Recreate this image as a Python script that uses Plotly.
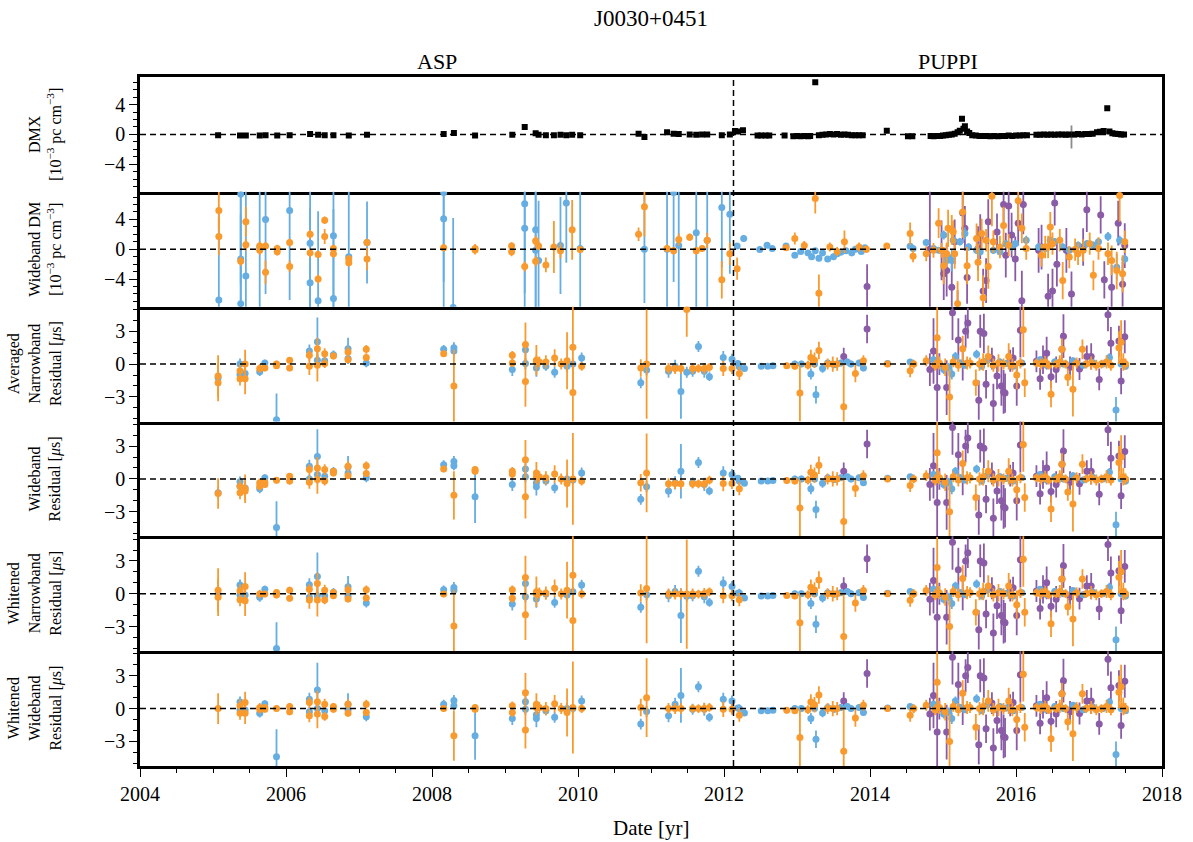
import plotly.graph_objects as go
from plotly.subplots import make_subplots

BLUE = "#66ADE2"
ORANGE = "#F99A2E"
PURPLE = "#8A5BA6"
FONT = "Liberation Serif"

BACKEND_SPLIT = 2012.13
X_RANGE = [2004, 2018]
DM_RANGE = [-7.7, 7.7]
RES_RANGE = [-5.25, 5.25]

# ---------------- Panel 1: DMX (date, value) ----------------
DMX = [
    (2005.07, -0.1), (2005.37, -0.15), (2005.45, -0.15), (2005.64, -0.15), (2005.72, -0.1),
    (2005.88, -0.15), (2006.05, -0.1), (2006.33, 0.05), (2006.44, -0.05), (2006.53, -0.1),
    (2006.65, -0.1), (2006.86, -0.15), (2007.11, -0.05), (2008.16, 0.05), (2008.30, 0.2),
    (2008.59, -0.15), (2009.10, -0.05), (2009.27, 1.0), (2009.42, 0.15), (2009.46, -0.05),
    (2009.56, -0.1), (2009.67, -0.1), (2009.76, -0.05), (2009.84, -0.1), (2009.92, -0.05),
    (2010.03, -0.1), (2010.83, 0.1), (2010.91, -0.35), (2011.22, 0.3), (2011.31, 0.1),
    (2011.38, 0.05), (2011.53, 0.0), (2011.62, -0.05), (2011.70, 0.0), (2011.77, 0.0),
    (2011.97, -0.1), (2012.08, 0.0), (2012.15, 0.45), (2012.19, 0.4), (2012.26, 0.55),
    (2012.46, -0.15), (2012.51, -0.15), (2012.57, -0.15), (2012.62, -0.15), (2012.83, -0.15),
    (2012.95, -0.25), (2013.00, -0.2), (2013.05, -0.25), (2013.10, -0.2), (2013.15, -0.25),
    (2013.18, -0.2), (2013.25, 7.0), (2013.30, -0.1), (2013.35, -0.05), (2013.40, 0.0),
    (2013.45, 0.05), (2013.50, 0.0), (2013.55, 0.05), (2013.60, -0.05), (2013.65, 0.0),
    (2013.70, -0.05), (2013.75, -0.1), (2013.80, -0.1), (2013.85, -0.1), (2013.90, -0.1),
    (2014.23, 0.5), (2014.52, -0.25), (2014.58, -0.25), (2014.83, -0.2), (2014.87, -0.25),
    (2014.92, -0.2), (2014.96, -0.2), (2015.00, -0.15), (2015.04, -0.1), (2015.08, -0.05),
    (2015.12, 0.0), (2015.16, 0.1), (2015.20, 0.3), (2015.23, 0.5), (2015.26, 2.1),
    (2015.28, 0.75), (2015.30, 1.1), (2015.33, 0.4), (2015.36, 0.2), (2015.40, -0.1),
    (2015.45, -0.15), (2015.50, -0.2), (2015.55, -0.2), (2015.60, -0.2), (2015.65, -0.25),
    (2015.70, -0.2), (2015.75, -0.25), (2015.80, -0.2), (2015.85, -0.2), (2015.90, -0.15),
    (2015.95, -0.2), (2016.00, -0.15), (2016.05, -0.15), (2016.10, -0.1), (2016.15, -0.1),
    (2016.28, -0.05), (2016.33, -0.05), (2016.38, 0.0), (2016.43, -0.05), (2016.48, 0.0),
    (2016.53, -0.05), (2016.58, 0.0), (2016.63, 0.0), (2016.68, -0.05), (2016.72, 0.0),
    (2016.80, 0.0), (2016.85, 0.05), (2016.90, 0.0), (2016.95, 0.05), (2017.00, 0.05),
    (2017.05, 0.1), (2017.11, 0.3), (2017.15, 0.35), (2017.20, 0.45), (2017.25, 3.5),
    (2017.28, 0.4), (2017.32, 0.15), (2017.36, 0.1), (2017.40, 0.05), (2017.44, 0.0),
    (2017.48, 0.0),
]
DMX_GRAY = [(2016.76, -0.35, 1.55)]

# ---------------- Panel 2: Wideband DM (date, value, error) ----------------
WBDM_BLUE = [
    (2005.08, -6.8, 12), (2005.38, 7.4, 12), (2005.38, -1.3, 12), (2005.38, -7.3, 12),
    (2005.45, -3.6, 12), (2005.64, 0.3, 10), (2005.72, 4.0, 10), (2006.05, 5.2, 12),
    (2006.33, 0.8, 10), (2006.33, -4.5, 10), (2006.44, -6.9, 12), (2006.65, 1.8, 10),
    (2006.65, -6.6, 12), (2006.86, -1.0, 12), (2007.11, 0.9, 5.5), (2008.16, 7.6, 12),
    (2008.16, 4.1, 12), (2008.29, -7.8, 12), (2009.27, 6.1, 12), (2009.27, 2.8, 12),
    (2009.42, 2.6, 12), (2009.42, -0.15, 12), (2009.46, -1.5, 8), (2009.76, 0.5, 6.5),
    (2009.84, 6.2, 8), (2010.03, 0.1, 10), (2010.91, 0.0, 7.2), (2011.22, 0.0, 12),
    (2011.31, 7.6, 12), (2011.38, 0.5, 12), (2011.62, 2.2, 12), (2011.77, 1.2, 12),
    (2011.97, 5.6, 8), (2012.08, 4.7, 8),
    (2012.18, 0.45, 0.3), (2012.27, 1.45, 0.4), (2012.49, -0.05, 0.2), (2012.59, 0.55, 0.2),
    (2012.66, 0.1, 0.2), (2012.85, 0.45, 0.3), (2012.97, -0.8, 0.3), (2013.05, -0.3, 0.3),
    (2013.15, -0.5, 0.4), (2013.20, -1.0, 0.4), (2013.25, -0.2, 0.3), (2013.30, -1.2, 0.4),
    (2013.35, -0.5, 0.3), (2013.42, -1.3, 0.4), (2013.50, -1.0, 0.4), (2013.55, -0.6, 0.3),
    (2013.60, -0.4, 0.3), (2013.67, -0.2, 0.3), (2013.75, -0.5, 0.3), (2013.80, 0.0, 0.3),
    (2013.88, -0.3, 0.3), (2013.93, 0.2, 0.3),
    (2014.55, 0.4, 0.3), (2014.59, 0.1, 0.3), (2014.77, 0.9, 0.4), (2014.87, 0.1, 0.3),
    (2014.94, -0.15, 0.3), (2015.01, 1.9, 0.6), (2015.05, -1.5, 0.6), (2015.07, -1.05, 0.6),
    (2015.12, -1.5, 1.5), (2015.14, 1.2, 0.5), (2015.23, 1.0, 0.5), (2015.30, 2.1, 0.8),
    (2015.35, 0.3, 0.5), (2015.46, -0.15, 0.5), (2015.51, -0.35, 0.5), (2015.69, -0.15, 0.5),
    (2015.78, -0.35, 0.6), (2015.86, 0.75, 0.5), (2015.94, 0.3, 0.5), (2015.99, 0.75, 0.5),
    (2016.14, 1.2, 0.6), (2016.31, 0.3, 0.5), (2016.40, 0.1, 0.5), (2016.47, 1.2, 0.5),
    (2016.53, 1.0, 0.5), (2016.64, 0.3, 0.5), (2016.73, -0.15, 0.5), (2016.85, 0.55, 0.5),
    (2016.97, 0.75, 0.5), (2017.06, 0.55, 0.5), (2017.13, 1.0, 0.5), (2017.26, 1.7, 0.6),
    (2017.38, -2.4, 1.8), (2017.42, 1.2, 0.6), (2017.49, -1.3, 0.6),
]
WBDM_ORANGE = [
    (2005.08, 5.2, 2.5), (2005.08, 1.7, 2.5), (2005.38, -1.6, 0.6), (2005.45, 3.7, 2.0),
    (2005.45, 0.6, 0.8), (2005.64, 0.45, 0.6), (2005.64, -0.15, 0.6), (2005.72, 0.45, 0.5),
    (2005.72, -3.1, 1.6), (2005.88, 0.1, 0.5), (2005.88, -0.35, 0.5), (2006.05, 0.9, 0.5),
    (2006.05, -2.3, 0.8), (2006.33, 2.0, 0.6), (2006.33, -0.5, 0.6), (2006.44, -0.7, 0.5),
    (2006.44, -4.0, 0.6), (2006.53, 3.9, 0.5), (2006.53, 1.7, 1.0), (2006.65, 0.1, 0.5),
    (2006.65, -0.6, 0.5), (2006.86, -1.3, 0.5), (2006.86, -1.8, 0.5), (2007.11, 0.9, 0.5),
    (2007.11, -1.3, 1.5), (2008.16, 0.2, 0.5), (2008.59, 0.1, 0.6), (2008.59, -0.1, 0.6),
    (2009.09, 0.45, 0.5), (2009.09, -0.35, 0.6), (2009.27, -2.3, 0.7), (2009.42, 1.1, 0.7),
    (2009.42, -1.6, 0.7), (2009.46, 0.45, 0.6), (2009.56, -2.1, 1.0), (2009.67, 0.3, 3.5),
    (2009.76, -0.2, 1.0), (2009.92, 2.6, 4.0), (2010.03, -0.05, 0.4), (2010.83, 2.0, 0.9),
    (2010.91, 5.7, 4.0), (2011.22, 0.1, 0.5), (2011.31, -0.2, 0.5), (2011.38, 1.3, 0.8),
    (2011.53, 1.6, 0.5), (2011.62, -0.2, 0.5), (2011.70, 0.1, 0.4), (2011.77, 1.2, 1.0),
    (2011.97, -4.1, 2.5), (2012.08, -0.6, 1.5), (2012.18, -2.6, 1.5),
    (2012.85, 0.2, 0.4), (2012.97, 1.45, 0.8), (2013.10, 0.5, 0.6), (2013.25, 6.8, 2.0),
    (2013.30, -5.9, 2.5), (2013.45, 0.3, 0.6), (2013.55, -0.3, 0.6), (2013.65, 1.0, 1.5),
    (2013.85, 0.3, 0.6), (2013.95, 0.0, 0.5),
    (2014.23, 0.45, 0.4), (2014.55, 2.1, 1.5), (2014.59, -0.95, 0.8), (2014.77, -0.6, 1.0),
    (2014.87, -0.15, 1.0), (2014.94, 3.5, 2.0), (2014.98, -0.15, 1.0), (2015.01, -2.2, 2.5),
    (2015.05, -0.6, 1.5), (2015.07, 2.8, 2.5), (2015.12, 2.6, 2.0), (2015.14, 2.35, 1.5),
    (2015.16, -0.6, 2.0), (2015.20, -7.3, 3.0), (2015.27, 5.0, 3.5), (2015.33, -2.2, 2.5),
    (2015.46, 1.45, 2.0), (2015.48, -1.75, 2.5), (2015.53, 2.1, 2.0), (2015.55, -6.5, 3.0),
    (2015.59, 1.2, 1.5), (2015.62, -2.3, 3.0), (2015.67, 7.1, 4.0), (2015.69, 1.0, 1.5),
    (2015.78, 0.3, 1.5), (2015.83, 3.2, 2.5), (2015.90, 0.55, 1.5), (2016.03, 6.5, 3.5),
    (2016.08, 2.8, 2.0), (2016.14, 0.1, 1.5), (2016.35, -0.8, 1.5), (2016.40, 0.3, 1.5),
    (2016.44, 0.3, 1.5), (2016.47, 3.0, 2.0), (2016.50, 0.75, 1.5), (2016.60, 1.2, 1.5),
    (2016.64, -4.2, 2.5), (2016.73, -1.05, 1.5), (2016.81, -0.05, 1.5), (2016.85, -0.6, 1.5),
    (2016.92, -0.15, 1.5), (2017.01, 0.75, 1.5), (2017.06, -3.5, 2.0), (2017.13, 0.1, 1.5),
    (2017.26, -0.6, 1.5), (2017.31, -1.5, 2.0), (2017.38, -2.85, 2.5), (2017.42, 7.2, 3.5),
    (2017.46, -3.3, 2.5), (2017.49, 1.0, 1.5),
]
WBDM_PURPLE = [
    (2013.96, -5.0, 3.0), (2014.82, 0.0, 8.0), (2014.98, -0.15, 4.0), (2015.01, -3.3, 3.5),
    (2015.05, -2.85, 3.5), (2015.12, -5.1, 3.5), (2015.16, 1.0, 3.0), (2015.20, -8.5, 3.0),
    (2015.27, 4.85, 4.0), (2015.30, 2.8, 3.0), (2015.33, -3.8, 3.5), (2015.48, 0.1, 3.0),
    (2015.51, 1.7, 3.0), (2015.55, -5.6, 3.0), (2015.59, -4.2, 3.0), (2015.62, 3.7, 3.0),
    (2015.74, 2.3, 2.5), (2015.83, 6.0, 3.0), (2015.86, -0.8, 3.0), (2015.90, 5.8, 4.0),
    (2015.94, 1.9, 3.0), (2015.99, -1.3, 3.0), (2016.03, 3.5, 3.0), (2016.08, -6.9, 4.0),
    (2016.10, 6.0, 4.0), (2016.31, -0.15, 3.0), (2016.35, 0.3, 3.0), (2016.44, -6.3, 3.0),
    (2016.50, -5.6, 3.0), (2016.53, 6.2, 3.0), (2016.56, -2.0, 3.0), (2016.69, -0.15, 3.0),
    (2016.76, -6.0, 3.0), (2016.92, 0.3, 2.5), (2016.97, 5.3, 3.0), (2017.16, 4.6, 2.5),
    (2017.21, -4.1, 2.5), (2017.31, -5.1, 3.0), (2017.40, 3.5, 3.0), (2017.46, -4.7, 3.0),
    (2017.49, 0.5, 3.0),
]

# ---------------- ASP-era residuals (date, value [us], error) ----------------
AVG_NB_BLUE = [
    (2005.07, -1.25, 0.5), (2005.37, 0.0, 0.5), (2005.37, -0.95, 0.4), (2005.44, -0.85, 0.5),
    (2005.64, -0.7, 0.4), (2005.71, 0.1, 0.3), (2005.87, -5.1, 2.4), (2006.32, 1.2, 0.6),
    (2006.43, 2.05, 2.2), (2006.43, 0.35, 0.5), (2006.53, 0.3, 0.4), (2006.65, 0.85, 0.4),
    (2006.85, 1.4, 1.0), (2006.85, 0.5, 0.5), (2007.10, 0.1, 0.4), (2008.16, 1.35, 0.4),
    (2008.30, 1.5, 0.5), (2008.30, 1.2, 0.4), (2009.10, -0.5, 0.6), (2009.28, 1.3, 0.6),
    (2009.28, 0.05, 0.5), (2009.43, -0.35, 0.8), (2009.56, -0.2, 0.4), (2009.68, -0.75, 0.5),
    (2009.85, -0.2, 0.5), (2009.93, 0.0, 0.4), (2010.05, 0.55, 0.5), (2010.86, -1.7, 0.5),
    (2010.94, -0.55, 0.5), (2011.24, -0.65, 0.6), (2011.33, -0.2, 0.6), (2011.41, -2.5, 2.5),
    (2011.49, -0.75, 0.5), (2011.57, -0.65, 0.5), (2011.65, 1.6, 0.5), (2011.73, -0.65, 0.6),
    (2011.80, -1.15, 0.4), (2011.99, 0.6, 0.6), (2012.11, 0.45, 0.5), (2012.21, -0.25, 0.4),
]
AVG_NB_ORANGE = [
    (2005.07, -1.1, 1.9), (2005.07, -1.7, 1.7), (2005.37, -0.6, 0.6), (2005.37, -1.35, 0.6),
    (2005.44, 0.0, 1.3), (2005.44, -1.35, 1.4), (2005.64, -0.4, 0.4), (2005.71, -0.35, 0.3),
    (2005.87, 0.0, 0.3), (2005.87, -0.15, 0.3), (2006.05, 0.35, 0.3), (2006.05, -0.35, 0.3),
    (2006.32, 0.8, 0.5), (2006.32, -0.2, 0.8), (2006.43, 1.4, 1.0), (2006.43, -0.1, 1.5),
    (2006.53, 0.95, 0.5), (2006.53, 0.05, 0.4), (2006.65, 0.75, 0.3), (2006.85, 1.1, 0.5),
    (2006.85, 0.4, 0.3), (2007.10, 1.35, 0.4), (2007.10, 0.6, 0.3), (2008.16, 0.95, 0.3),
    (2008.30, -2.0, 3.3), (2009.10, 0.8, 0.4), (2009.10, 0.1, 0.4), (2009.28, 1.8, 2.0),
    (2009.28, -1.6, 2.3), (2009.43, 0.35, 1.4), (2009.43, 0.2, 0.6), (2009.47, 0.2, 0.5),
    (2009.56, 0.2, 0.6), (2009.68, 0.55, 0.8), (2009.77, 0.0, 0.5), (2009.85, 0.3, 2.6),
    (2009.93, 1.55, 4.0), (2009.93, -2.6, 3.0), (2010.05, -0.2, 0.4), (2010.86, -0.35, 0.8),
    (2010.94, 0.0, 5.0), (2011.24, -0.4, 0.5), (2011.33, -0.4, 0.5), (2011.41, -0.4, 0.5),
    (2011.49, 5.0, 2.5), (2011.57, -0.4, 0.5), (2011.65, -0.4, 0.4), (2011.73, -0.4, 0.5),
    (2011.80, -0.3, 0.4), (2011.99, -0.4, 0.7), (2012.11, -0.4, 0.5), (2012.21, -0.85, 0.6),
]
WB_BLUE = [
    (2005.07, -1.27, 0.5), (2005.37, -0.27, 0.5), (2005.37, -0.66, 0.4), (2005.44, -0.82, 0.5),
    (2005.64, -0.9, 0.4), (2005.71, 0.1, 0.3), (2005.87, -4.45, 2.4), (2006.32, 1.15, 0.6),
    (2006.32, 0.0, 0.4), (2006.43, 2.05, 2.5), (2006.43, 0.4, 0.5), (2006.53, 0.25, 0.4),
    (2006.65, 0.7, 0.4), (2006.85, 1.1, 1.0), (2006.85, 0.55, 0.5), (2007.10, 0.1, 0.4),
    (2008.16, 1.3, 0.4), (2008.30, 1.6, 0.5), (2008.30, 1.2, 0.4), (2008.59, -1.63, 2.4),
    (2009.10, -0.5, 0.6), (2009.28, 0.9, 0.6), (2009.28, 0.2, 0.5), (2009.43, -0.36, 0.6),
    (2009.43, -0.72, 0.8), (2009.56, -0.2, 0.4), (2009.68, -0.8, 0.5), (2009.85, 0.0, 0.5),
    (2009.93, -0.1, 0.4), (2010.05, 0.55, 0.5), (2010.86, -1.87, 0.5), (2010.94, -0.72, 0.5),
    (2011.24, -1.1, 0.6), (2011.33, -0.36, 0.6), (2011.41, 0.7, 2.5), (2011.57, -0.36, 0.5),
    (2011.65, 1.5, 0.5), (2011.73, -0.5, 0.6), (2011.80, -1.1, 0.4), (2011.99, 0.55, 0.6),
    (2012.11, 0.4, 0.5), (2012.21, -0.2, 0.4),
]
WB_ORANGE = [
    (2005.07, -1.33, 1.4), (2005.37, -0.66, 0.6), (2005.37, -1.27, 0.6), (2005.44, -0.9, 1.3),
    (2005.44, -1.1, 0.8), (2005.64, -0.36, 0.4), (2005.64, -0.66, 0.4), (2005.71, -0.5, 0.3),
    (2005.71, -0.3, 0.3), (2005.87, -0.12, 0.3), (2006.05, 0.25, 0.3), (2006.05, -0.2, 0.3),
    (2006.32, 0.85, 0.5), (2006.32, -0.3, 0.6), (2006.43, 1.0, 1.0), (2006.43, -0.05, 1.3),
    (2006.53, 0.85, 0.5), (2006.53, -0.2, 0.4), (2006.65, 0.55, 0.3), (2006.65, 0.7, 0.3),
    (2006.85, 1.15, 0.5), (2006.85, 0.3, 0.3), (2007.10, 1.2, 0.4), (2007.10, 0.5, 0.3),
    (2008.16, 0.9, 0.3), (2008.30, -1.5, 2.2), (2008.59, 0.85, 0.3), (2008.59, 0.7, 0.3),
    (2009.10, 0.7, 0.4), (2009.10, 0.45, 0.4), (2009.28, 1.75, 1.8), (2009.28, -1.63, 2.0),
    (2009.43, 0.55, 1.0), (2009.43, 0.2, 0.6), (2009.47, 0.2, 0.5), (2009.56, 0.1, 0.6),
    (2009.68, 0.45, 0.8), (2009.77, 0.0, 0.5), (2009.85, -0.42, 2.2), (2009.93, 0.0, 4.2),
    (2010.05, -0.2, 0.4), (2010.86, -0.36, 0.8), (2010.94, 0.55, 3.6), (2011.24, -0.45, 0.5),
    (2011.33, -0.42, 0.5), (2011.41, -0.45, 0.5), (2011.57, -0.45, 0.4), (2011.65, -0.45, 0.4),
    (2011.73, -0.45, 0.5), (2011.80, -0.12, 0.4), (2011.99, -0.42, 0.7), (2012.11, -0.42, 0.5),
    (2012.21, -0.9, 0.6),
]
WH_NB_BLUE = [
    (2005.07, -0.03, 0.5), (2005.37, 0.8, 0.5), (2005.37, -0.12, 0.4), (2005.44, -0.12, 0.5),
    (2005.64, -0.33, 0.4), (2005.71, 0.42, 0.3), (2005.87, -5.0, 2.4), (2006.32, 0.82, 0.6),
    (2006.32, -0.33, 0.4), (2006.43, 1.57, 2.2), (2006.43, -0.18, 0.5), (2006.53, -0.18, 0.4),
    (2006.65, 0.12, 0.4), (2006.85, 0.63, 1.0), (2006.85, -0.24, 0.5), (2007.10, -0.85, 0.4),
    (2008.16, 0.36, 0.4), (2008.30, 0.57, 0.5), (2008.30, 0.33, 0.4), (2009.10, -0.94, 0.6),
    (2009.28, 0.94, 0.6), (2009.28, -0.27, 0.5), (2009.43, -0.48, 0.8), (2009.56, -0.03, 0.4),
    (2009.68, -0.79, 0.5), (2009.85, -0.12, 0.5), (2009.93, 0.18, 0.4), (2010.05, 0.79, 0.5),
    (2010.86, -1.24, 0.5), (2010.94, -0.09, 0.5), (2011.24, -0.18, 0.6), (2011.33, 0.21, 0.6),
    (2011.41, -2.0, 2.5), (2011.49, -0.24, 0.5), (2011.57, -0.18, 0.5), (2011.65, 2.05, 0.5),
    (2011.73, -0.27, 0.6), (2011.80, -0.79, 0.4), (2011.99, 0.97, 0.6), (2012.11, 0.66, 0.5),
    (2012.21, 0.06, 0.4),
]
WH_NB_ORANGE = [
    (2005.07, 0.33, 2.0), (2005.07, -0.33, 1.7), (2005.37, 0.27, 0.6), (2005.37, -0.54, 0.6),
    (2005.44, 0.66, 1.3), (2005.44, -0.63, 1.4), (2005.64, -0.03, 0.4), (2005.71, -0.03, 0.3),
    (2005.87, 0.12, 0.3), (2005.87, -0.12, 0.3), (2006.05, 0.33, 0.3), (2006.05, -0.42, 0.3),
    (2006.32, 0.42, 0.5), (2006.32, -0.57, 0.8), (2006.43, 0.94, 1.0), (2006.43, -0.57, 1.5),
    (2006.53, 0.33, 0.5), (2006.53, -0.57, 0.4), (2006.65, 0.12, 0.3), (2006.65, -0.18, 0.3),
    (2006.85, 0.36, 0.5), (2006.85, -0.48, 0.3), (2007.10, 0.36, 0.4), (2007.10, -0.39, 0.3),
    (2008.16, -0.03, 0.3), (2008.30, -2.96, 3.3), (2009.10, 0.36, 0.4), (2009.10, -0.42, 0.4),
    (2009.28, 1.48, 2.0), (2009.28, -1.93, 2.3), (2009.43, 0.18, 1.4), (2009.43, -0.03, 0.6),
    (2009.47, 0.06, 0.5), (2009.56, 0.06, 0.6), (2009.68, 0.51, 0.8), (2009.77, -0.03, 0.5),
    (2009.85, 0.33, 2.6), (2009.93, 1.7, 4.0), (2009.93, -2.45, 3.0), (2010.05, -0.03, 0.4),
    (2010.86, 0.06, 0.8), (2010.94, 0.48, 5.0), (2011.24, -0.03, 0.5), (2011.33, -0.03, 0.5),
    (2011.41, -0.03, 0.5), (2011.49, -0.03, 5.0), (2011.57, -0.03, 0.5), (2011.65, -0.03, 0.4),
    (2011.73, 0.03, 0.5), (2011.80, 0.18, 0.4), (2011.99, -0.18, 0.7), (2012.11, -0.18, 0.5),
    (2012.21, -0.54, 0.6),
]
WH_WB_BLUE = [
    (2005.37, 0.6, 0.5), (2005.37, -0.12, 0.4), (2005.44, -0.12, 0.5), (2005.64, -0.42, 0.4),
    (2005.71, 0.45, 0.3), (2005.87, -4.4, 2.5), (2006.32, 0.85, 0.6), (2006.32, -0.3, 0.4),
    (2006.43, 1.7, 2.5), (2006.43, 0.0, 0.5), (2006.53, -0.2, 0.4), (2006.85, 0.4, 1.0),
    (2006.85, -0.12, 0.5), (2007.10, -0.75, 0.4), (2008.16, 0.4, 0.4), (2008.30, 0.75, 0.5),
    (2008.30, 0.25, 0.4), (2008.59, -2.48, 2.2), (2009.10, -0.9, 0.6), (2009.28, 0.63, 0.6),
    (2009.28, -0.06, 0.5), (2009.43, -0.57, 0.6), (2009.43, -0.9, 0.8), (2009.56, -0.2, 0.4),
    (2009.68, -0.8, 0.5), (2009.85, 0.0, 0.5), (2009.93, 0.0, 0.4), (2010.05, 0.7, 0.5),
    (2010.86, -1.42, 0.5), (2010.94, -0.27, 0.5), (2011.24, -0.66, 0.6), (2011.33, 0.4, 0.6),
    (2011.41, 1.2, 2.5), (2011.57, -0.06, 0.5), (2011.65, 2.0, 0.5), (2011.73, -0.06, 0.6),
    (2011.80, -0.8, 0.4), (2011.99, 0.85, 0.6), (2012.11, 0.7, 0.5), (2012.21, 0.0, 0.4),
]
WH_WB_ORANGE = [
    (2005.07, 0.0, 1.4), (2005.37, 0.25, 0.6), (2005.37, -0.42, 0.6), (2005.44, 0.55, 1.0),
    (2005.44, -0.42, 1.0), (2005.64, 0.1, 0.4), (2005.64, -0.06, 0.4), (2005.71, -0.06, 0.3),
    (2005.71, 0.1, 0.3), (2005.87, 0.0, 0.3), (2006.05, 0.2, 0.3), (2006.05, -0.3, 0.3),
    (2006.32, 0.55, 0.5), (2006.32, -0.66, 0.6), (2006.43, 0.63, 1.0), (2006.43, -0.5, 1.3),
    (2006.53, 0.4, 0.5), (2006.53, -0.72, 0.4), (2006.65, 0.2, 0.3), (2006.65, -0.06, 0.3),
    (2006.85, 0.4, 0.5), (2006.85, -0.42, 0.3), (2007.10, 0.4, 0.4), (2007.10, -0.36, 0.3),
    (2008.16, 0.0, 0.3), (2008.30, -2.48, 2.3), (2008.59, 0.1, 0.3), (2008.59, -0.06, 0.3),
    (2009.10, 0.25, 0.4), (2009.10, -0.36, 0.4), (2009.28, 1.45, 1.8), (2009.28, -1.96, 1.7),
    (2009.43, 0.4, 1.0), (2009.43, 0.1, 0.6), (2009.47, 0.1, 0.5), (2009.56, 0.0, 0.6),
    (2009.68, 0.45, 0.8), (2009.77, 0.0, 0.5), (2009.85, -0.36, 2.2), (2009.93, 0.1, 4.2),
    (2010.05, 0.0, 0.4), (2010.86, 0.1, 0.8), (2010.94, 1.0, 3.6), (2011.24, 0.0, 0.5),
    (2011.33, 0.0, 0.5), (2011.41, 0.0, 0.5), (2011.57, 0.0, 0.4), (2011.65, 0.0, 0.4),
    (2011.73, 0.0, 0.5), (2011.80, 0.1, 0.4), (2011.99, -0.06, 0.7), (2012.11, -0.06, 0.5),
    (2012.21, -0.6, 0.6),
]

# ---------------- PUPPI-era residuals (date, value [us], error) ----------------
PUP_BLUE = [
    (2012.19, 0.05, 0.2), (2012.28, -0.4, 0.2), (2012.51, -0.2, 0.2), (2012.60, -0.2, 0.2),
    (2012.67, -0.15, 0.15), (2012.97, 0.0, 0.3), (2013.06, 0.0, 0.3), (2013.19, -0.9, 0.5),
    (2013.24, 0.0, 0.2), (2013.26, -2.8, 0.8), (2013.35, -0.4, 0.4), (2013.42, 0.1, 0.3),
    (2013.51, -0.05, 0.3), (2013.60, 0.1, 0.3), (2013.69, 0.2, 0.3), (2013.74, 0.0, 0.3),
    (2013.85, 0.1, 0.3), (2013.91, -0.35, 0.3), (2014.24, 0.05, 0.2), (2014.55, 0.2, 0.2),
    (2014.87, 0.4, 0.3), (2015.01, -0.5, 0.4), (2015.08, -0.3, 0.4), (2015.12, -0.9, 0.5),
    (2015.17, 0.7, 0.4), (2015.24, 0.1, 0.3), (2015.30, -0.1, 0.3), (2015.46, 0.9, 0.4),
    (2015.53, -0.2, 0.3), (2015.60, 0.3, 0.3), (2015.69, -0.1, 0.3), (2015.78, 0.2, 0.3),
    (2015.87, 0.05, 0.3), (2015.96, -0.2, 0.3), (2016.08, 0.1, 0.3), (2016.33, 0.4, 0.3),
    (2016.42, -0.1, 0.3), (2016.53, 0.2, 0.3), (2016.65, 0.0, 0.3), (2016.78, 0.3, 0.3),
    (2016.92, -0.1, 0.3), (2017.05, 0.15, 0.3), (2017.19, 0.0, 0.3), (2017.28, 0.6, 0.4),
    (2017.37, -4.2, 1.2), (2017.44, 0.0, 0.3), (2017.50, -0.2, 0.3),
]
PUP_ORANGE = [
    (2012.86, -0.15, 0.3), (2012.97, -0.2, 0.3), (2013.04, -2.65, 2.6), (2013.15, -0.1, 0.4),
    (2013.19, 0.6, 0.7), (2013.24, 0.35, 0.7), (2013.30, 1.25, 0.8), (2013.42, 0.0, 0.5),
    (2013.49, 0.0, 0.7), (2013.55, 0.0, 0.6), (2013.64, -3.9, 4.0), (2013.80, -0.85, 0.8),
    (2013.91, 0.3, 0.5), (2014.24, 0.0, 0.3), (2014.55, -0.6, 0.6), (2014.60, 0.0, 0.4),
    (2014.77, 0.3, 0.5), (2014.89, -0.1, 0.5), (2014.92, 2.4, 2.8), (2014.95, 0.1, 0.6),
    (2015.03, -0.3, 0.8), (2015.09, -3.0, 2.5), (2015.14, 0.2, 0.5), (2015.21, -0.1, 0.6),
    (2015.27, 1.4, 1.2), (2015.33, 0.1, 0.6), (2015.37, 0.1, 0.5), (2015.45, -1.7, 1.2),
    (2015.50, 0.0, 0.6), (2015.55, 0.2, 0.8), (2015.62, 0.7, 1.0), (2015.69, -0.1, 0.6),
    (2015.76, 0.1, 0.8), (2015.83, 0.0, 0.5), (2015.90, 0.7, 1.2), (2015.95, -0.1, 0.6),
    (2016.01, -1.0, 1.3), (2016.06, 0.1, 0.5), (2016.10, 3.15, 2.5), (2016.12, -1.7, 1.3),
    (2016.28, 0.1, 0.4), (2016.34, 0.0, 0.5), (2016.40, 0.2, 0.5), (2016.45, -0.1, 0.4),
    (2016.48, -2.75, 1.2), (2016.55, 0.0, 0.4), (2016.60, 0.2, 0.6), (2016.63, 1.35, 1.0),
    (2016.68, 0.0, 0.4), (2016.71, -1.2, 0.8), (2016.78, -2.3, 2.5), (2016.83, 0.1, 0.5),
    (2016.91, 1.35, 0.9), (2016.96, 0.0, 0.4), (2017.03, 0.1, 0.6), (2017.10, -0.1, 0.5),
    (2017.17, 0.0, 0.4), (2017.24, 0.2, 0.6), (2017.30, -0.1, 0.5), (2017.41, 1.5, 1.5),
    (2017.44, 2.0, 2.0), (2017.47, 0.2, 0.8), (2017.50, 0.0, 0.5),
]
PUP_PURPLE = [
    (2013.64, 0.7, 0.8), (2013.96, 3.2, 1.3), (2014.82, -0.5, 1.5), (2014.87, 1.2, 3.0),
    (2014.92, -2.15, 3.5), (2014.95, 0.0, 1.0), (2015.05, -2.15, 2.5), (2015.13, 4.7, 2.5),
    (2015.21, 2.2, 2.0), (2015.27, 0.0, 1.5), (2015.31, 3.0, 1.5), (2015.34, 3.75, 1.4),
    (2015.49, -3.3, 1.8), (2015.51, 3.0, 1.5), (2015.56, 2.8, 1.8), (2015.59, -1.85, 1.3),
    (2015.67, 0.5, 1.0), (2015.69, -3.6, 1.8), (2015.74, -1.1, 1.2), (2015.80, -2.0, 1.8),
    (2015.83, -2.55, 2.0), (2015.85, -2.65, 1.8), (2015.92, 0.3, 1.0), (2015.96, 0.55, 1.0),
    (2016.01, -2.0, 1.8), (2016.06, 3.1, 2.5), (2016.28, 0.25, 1.0), (2016.33, -1.35, 1.0),
    (2016.37, 0.4, 1.3), (2016.42, 1.0, 1.5), (2016.48, -1.15, 1.0), (2016.55, -0.5, 1.2),
    (2016.63, 1.35, 1.5), (2016.65, 2.55, 2.0), (2016.74, -0.3, 1.0), (2016.87, -0.45, 1.0),
    (2016.97, 0.7, 1.0), (2017.03, 0.7, 1.2), (2017.14, -1.4, 1.0), (2017.26, 4.5, 1.5),
    (2017.30, 1.9, 1.5), (2017.41, 2.1, 1.4), (2017.44, -1.55, 1.2), (2017.49, 2.5, 1.5),
]

Y_TITLES = [
    "DMX<br>[10<sup>−3</sup> pc cm<sup>−3</sup>]",
    "Wideband DM<br>[10<sup>−3</sup> pc cm<sup>−3</sup>]",
    "Averaged<br>Narrowband<br>Residual [<i>μ</i>s]",
    "Wideband<br>Residual [<i>μ</i>s]",
    "Whitened<br>Narrowband<br>Residual [<i>μ</i>s]",
    "Whitened<br>Wideband<br>Residual [<i>μ</i>s]",
]

fig = make_subplots(rows=6, cols=1, shared_xaxes=True, vertical_spacing=0)


def add_series(series, row, color, size=7, symbol="circle", errors=True):
    xs = [s[0] for s in series]
    ys = [s[1] for s in series]
    kw = {}
    if errors:
        kw["error_y"] = dict(type="data", array=[s[2] for s in series], color=color,
                             thickness=1.8, width=0)
    fig.add_trace(go.Scatter(x=xs, y=ys, mode="markers",
                             marker=dict(color=color, size=size, symbol=symbol, line=dict(width=0)),
                             showlegend=False, hoverinfo="skip", **kw), row=row, col=1)


# Panel 1
add_series(DMX_GRAY, 1, "#8c8c8c", size=8, symbol="line-ew-open")
add_series(DMX, 1, "black", size=6, symbol="square", errors=False)
# Panel 2
add_series(WBDM_PURPLE, 2, PURPLE)
add_series(WBDM_BLUE, 2, BLUE)
add_series(WBDM_ORANGE, 2, ORANGE)
# Panels 3-6
panel_sets = [
    (3, AVG_NB_BLUE, AVG_NB_ORANGE),
    (4, WB_BLUE, WB_ORANGE),
    (5, WH_NB_BLUE, WH_NB_ORANGE),
    (6, WH_WB_BLUE, WH_WB_ORANGE),
]
for row, asp_b, asp_o in panel_sets:
    add_series(PUP_PURPLE, row, PURPLE)
    add_series(asp_b, row, BLUE)
    add_series(PUP_BLUE, row, BLUE)
    add_series(asp_o, row, ORANGE)
    add_series(PUP_ORANGE, row, ORANGE)

tickfont = dict(family=FONT, size=20, color="black")
for r in range(1, 7):
    is_dm = r <= 2
    fig.update_yaxes(
        row=r, col=1,
        range=DM_RANGE if is_dm else RES_RANGE,
        tickmode="array",
        tickvals=[-4, 0, 4] if is_dm else [-3, 0, 3],
        ticktext=["−4", "0", "4"] if is_dm else ["−3", "0", "3"],
        ticks="outside", ticklen=8, tickwidth=1.3, tickcolor="black",
        minor=dict(tickmode="linear", tick0=0, dtick=1, ticks="outside", ticklen=4,
                   tickwidth=1, tickcolor="black", showgrid=False),
        showline=True, linewidth=2.5, linecolor="black", mirror=True,
        showgrid=False, zeroline=False, tickfont=tickfont,
    )
    fig.update_xaxes(
        row=r, col=1, range=X_RANGE, showline=True, linewidth=2.5, linecolor="black",
        mirror=(r == 1), showgrid=False, zeroline=False,
        ticks="outside" if r == 6 else "", ticklen=8, tickwidth=1.3, tickcolor="black",
        tickmode="linear", tick0=2004, dtick=2, tickfont=tickfont,
        minor=dict(tickmode="linear", tick0=2004, dtick=0.5,
                   ticks="outside" if r == 6 else "", ticklen=4, tickwidth=1,
                   tickcolor="black", showgrid=False),
    )
    fig.add_hline(y=0, row=r, col=1, line=dict(color="black", width=1.5, dash="6px,4px"))
    ymid = 1 - (r - 0.5) / 6
    fig.add_annotation(text=Y_TITLES[r - 1], xref="paper", yref="paper",
                       x=(67 - 140) / 1022, y=ymid, xanchor="right", yanchor="middle",
                       textangle=-90, showarrow=False, align="center",
                       font=dict(family=FONT, size=16, color="black"))

fig.add_shape(type="line", xref="x", yref="paper", x0=BACKEND_SPLIT, x1=BACKEND_SPLIT,
              y0=0, y1=1, line=dict(color="black", width=1.5, dash="6px,4px"))

fig.add_annotation(text="ASP", xref="x", yref="paper", x=(2004 + BACKEND_SPLIT) / 2,
                   y=1.0218, showarrow=False, yanchor="middle",
                   font=dict(family=FONT, size=22, color="black"))
fig.add_annotation(text="PUPPI", xref="x", yref="paper", x=(2018 + BACKEND_SPLIT) / 2,
                   y=1.0218, showarrow=False, yanchor="middle",
                   font=dict(family=FONT, size=22, color="black"))
fig.add_annotation(text="Date [yr]", xref="paper", yref="paper", x=0.5, y=-0.09,
                   showarrow=False, yanchor="middle",
                   font=dict(family=FONT, size=21, color="black"))

fig.update_layout(
    width=1193, height=842,
    margin=dict(l=140, r=31, t=77, b=76),
    paper_bgcolor="white", plot_bgcolor="white",
    title=dict(text="J0030+0451", x=0.5, xref="paper", y=1 - 18 / 842, yanchor="middle",
               font=dict(family=FONT, size=23, color="black")),
    font=dict(family=FONT, color="black"),
)

fig.write_html("out.html")
